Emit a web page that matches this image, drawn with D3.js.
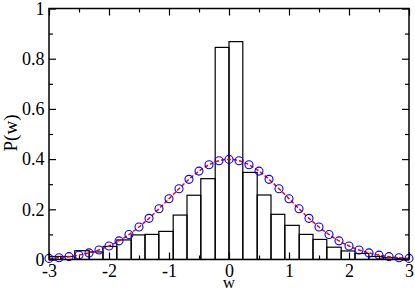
<!DOCTYPE html>
<html>
<head>
<meta charset="utf-8">
<script src="https://cdn.jsdelivr.net/npm/d3@7"></script>
<style>
  body { margin: 0; background: #fff; }
  svg text { font-family: "Liberation Serif", "Times New Roman", serif; }
</style>
</head>
<body>
<div id="chart"></div>
<script>

// histogram bin edges (w) and heights P(w)
var binEdges = [-3.03, -2.8, -2.57, -2.33, -2.1, -1.87, -1.63, -1.4, -1.17, -0.93, -0.7, -0.47, -0.23,
  0, 0.23, 0.47, 0.7, 0.93, 1.17, 1.4, 1.63, 1.87, 2.1, 2.33, 2.57, 2.8, 3.03];
var binHeights = [0.012, 0.012, 0.035, 0.03, 0.052, 0.078, 0.098, 0.10, 0.112, 0.177, 0.256, 0.322, 0.845,
  0.868, 0.347, 0.257, 0.18, 0.136, 0.10, 0.08, 0.049, 0.034, 0.024, 0.012, 0.007, 0.004];

// gaussian points (circles + red curve)
var gaussW = [-3, -2.833, -2.667, -2.5, -2.333, -2.167, -2, -1.833, -1.667, -1.5, -1.333, -1.167, -1,
  -0.833, -0.667, -0.5, -0.333, -0.167, 0, 0.167, 0.333, 0.5, 0.667, 0.833, 1, 1.167, 1.333, 1.5,
  1.667, 1.833, 2, 2.167, 2.333, 2.5, 2.667, 2.833, 3];
var gaussP = [0.0044, 0.0072, 0.0114, 0.0175, 0.0262, 0.0381, 0.0540, 0.0743, 0.0995, 0.1295, 0.1640, 0.2020, 0.2420,
  0.2819, 0.3194, 0.3521, 0.3774, 0.3934, 0.3989, 0.3934, 0.3774, 0.3521, 0.3194, 0.2819, 0.2420, 0.2020, 0.1640, 0.1295,
  0.0995, 0.0743, 0.0540, 0.0381, 0.0262, 0.0175, 0.0114, 0.0072, 0.0044];

var xMajor = [-3, -2, -1, 0, 1, 2, 3];
var xMinor = [-2.5, -1.5, -0.5, 0.5, 1.5, 2.5];
var yMajor = [0, 0.2, 0.4, 0.6, 0.8, 1];
var yMinor = [0.1, 0.3, 0.5, 0.7, 0.9];

var svgWidth = 415, svgHeight = 291;
var margin = {top: 8.5, right: 6, bottom: 31.5, left: 49};
var width = svgWidth - margin.left - margin.right;
var height = svgHeight - margin.top - margin.bottom;

var svg = d3.select("#chart").append("svg")
  .attr("width", svgWidth)
  .attr("height", svgHeight);

var chartGroup = svg.append("g")
  .attr("transform", `translate(${margin.left}, ${margin.top})`);

var xScale = d3.scaleLinear().domain([-3, 3]).range([0, width]);
var yScale = d3.scaleLinear().domain([0, 1]).range([height, 0]);

svg.append("defs").append("clipPath").attr("id", "plotclip")
  .append("rect").attr("x", 0).attr("y", -2).attr("width", width).attr("height", height + 2);

// histogram bars
chartGroup.append("g").attr("clip-path", "url(#plotclip)")
  .selectAll("rect")
  .data(binHeights)
  .enter()
  .append("rect")
  .attr("x", (d, i) => xScale(binEdges[i]))
  .attr("width", (d, i) => xScale(binEdges[i + 1]) - xScale(binEdges[i]))
  .attr("y", d => yScale(d))
  .attr("height", d => height - yScale(d))
  .attr("fill", "none")
  .attr("stroke", "#000")
  .attr("stroke-width", 1.2);

// gaussian
var pts = gaussW.map((w, i) => [w, gaussP[i]]);
var line = d3.line().x(d => xScale(d[0])).y(d => yScale(d[1])).curve(d3.curveMonotoneX);

chartGroup.append("path")
  .datum(pts)
  .attr("d", line)
  .attr("fill", "none")
  .attr("stroke", "#ff0000")
  .attr("stroke-width", 1.5)
  .attr("stroke-dasharray", "4,2");

chartGroup.selectAll("circle")
  .data(pts)
  .enter()
  .append("circle")
  .attr("cx", d => xScale(d[0]))
  .attr("cy", d => yScale(d[1]))
  .attr("r", 4)
  .attr("fill", "none")
  .attr("stroke", "#0000ff")
  .attr("stroke-width", 1.1);

// axes (ticks inward on all four sides)
function styleAxis(g) {
  g.attr("font-family", null).attr("font-size", null);
  g.select(".domain").remove();
  g.selectAll("line").attr("stroke", "#000").attr("stroke-width", 1.2);
  g.selectAll("text").attr("font-size", 18).attr("fill", "#000")
    .style("font-family", '"Liberation Serif", "Times New Roman", serif');
}
var plain = d => String(d);

chartGroup.append("g").attr("transform", `translate(0, ${height})`)
  .call(d3.axisBottom(xScale).tickValues(xMajor).tickSize(-7).tickPadding(5).tickFormat(plain))
  .call(styleAxis);
chartGroup.append("g").attr("transform", `translate(0, ${height})`)
  .call(d3.axisBottom(xScale).tickValues(xMinor).tickSize(-4).tickFormat(""))
  .call(styleAxis);
chartGroup.append("g")
  .call(d3.axisTop(xScale).tickValues(xMajor).tickSize(-7).tickFormat(""))
  .call(styleAxis);
chartGroup.append("g")
  .call(d3.axisTop(xScale).tickValues(xMinor).tickSize(-4).tickFormat(""))
  .call(styleAxis);

chartGroup.append("g")
  .call(d3.axisLeft(yScale).tickValues(yMajor).tickSize(-7).tickPadding(4.5).tickFormat(plain))
  .call(styleAxis);
chartGroup.append("g")
  .call(d3.axisLeft(yScale).tickValues(yMinor).tickSize(-4).tickFormat(""))
  .call(styleAxis);
chartGroup.append("g").attr("transform", `translate(${width}, 0)`)
  .call(d3.axisRight(yScale).tickValues(yMajor).tickSize(-7).tickFormat(""))
  .call(styleAxis);
chartGroup.append("g").attr("transform", `translate(${width}, 0)`)
  .call(d3.axisRight(yScale).tickValues(yMinor).tickSize(-4).tickFormat(""))
  .call(styleAxis);

// frame
chartGroup.append("rect")
  .attr("width", width)
  .attr("height", height)
  .attr("fill", "none")
  .attr("stroke", "#000")
  .attr("stroke-width", 1.5);

// axis labels
chartGroup.append("text")
  .attr("x", width / 2)
  .attr("y", height + 28)
  .attr("text-anchor", "middle")
  .attr("font-size", 17)
  .text("w");

chartGroup.append("text")
  .attr("transform", `translate(${17 - margin.left}, ${133 - margin.top}) rotate(-90)`)
  .attr("text-anchor", "middle")
  .attr("font-size", 19)
  .text("P(w)");

</script>
</body>
</html>
